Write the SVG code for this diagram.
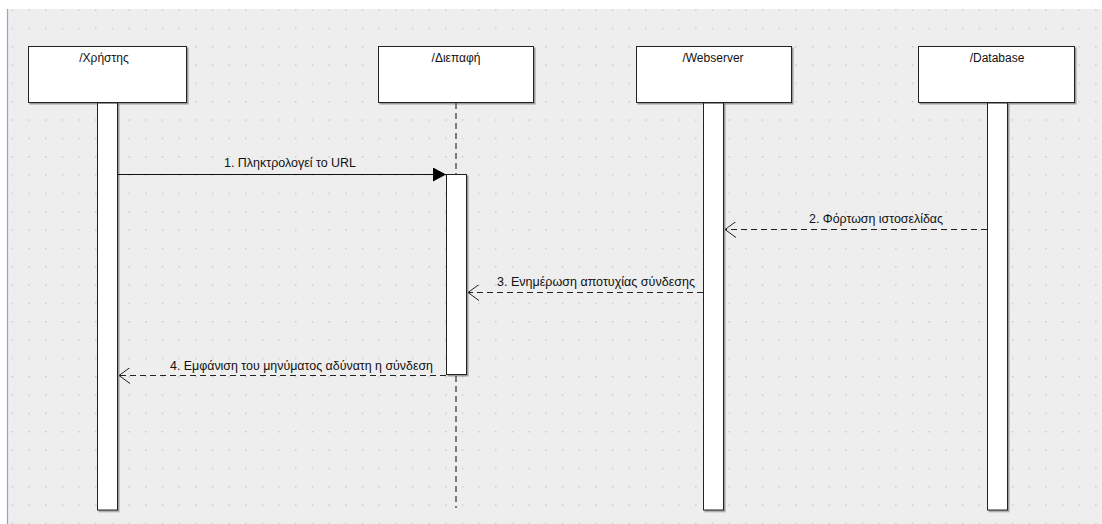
<svg xmlns="http://www.w3.org/2000/svg" width="1102" height="524" viewBox="0 0 1102 524">
<defs>
<pattern id="grid" x="11.7" y="9.4" width="16.67" height="18.33" patternUnits="userSpaceOnUse">
<rect x="0" y="0" width="1.4" height="1.4" fill="#c6c6c6"/>
</pattern>
<marker id="filled" markerWidth="14" markerHeight="14" refX="13" refY="7" orient="auto" markerUnits="userSpaceOnUse">
<path d="M0,0 L13,7 L0,14 Z" fill="#000"/>
</marker>
<marker id="open" markerWidth="14" markerHeight="16" refX="12" refY="8" orient="auto" markerUnits="userSpaceOnUse">
<path d="M1,0 L12,8 L1,16" fill="none" stroke="#222" stroke-width="1"/>
</marker>
<filter id="sh" x="-10%" y="-10%" width="130%" height="130%">
<feDropShadow dx="1.5" dy="1.5" stdDeviation="0.6" flood-color="#000" flood-opacity="0.35"/>
</filter>
</defs>
<style>
.box{fill:#fff;stroke:#222;stroke-width:1;filter:url(#sh)}
.bar{fill:#fff;stroke:#222;stroke-width:1;filter:url(#sh)}
.t{font-family:"Liberation Sans",Arial,sans-serif;font-size:12px;fill:#111}
.msg{stroke:#111;stroke-width:1;fill:none}
.ret{stroke:#222;stroke-width:1;fill:none;stroke-dasharray:6,4}
.life{stroke:#555;stroke-width:1.5;fill:none;stroke-dasharray:6,4}
</style>
<rect x="0" y="0" width="1102" height="524" fill="#fff"/>
<rect x="8" y="9" width="1094" height="515" fill="#eeeeee"/>
<rect x="8" y="9" width="1094" height="515" fill="url(#grid)"/>
<line x1="7.5" y1="9" x2="7.5" y2="524" stroke="#8ea6d6" stroke-width="1.2"/>

<g id="node-xristis">
<rect class="box" x="28.5" y="46.5" width="158" height="56"/>
<text class="t" x="104" y="62" text-anchor="middle">/Χρήστης</text>
<rect class="bar" x="97.5" y="103" width="20" height="407"/>
</g>

<g id="node-diepafi">
<rect class="box" x="378.5" y="46.5" width="155" height="56"/>
<text class="t" x="456" y="62" text-anchor="middle">/Διεπαφή</text>
<line class="life" x1="456" y1="103" x2="456" y2="174"/>
<line class="life" x1="456" y1="376" x2="456" y2="508"/>
<rect class="bar" x="446.5" y="174.5" width="20" height="200"/>
</g>

<g id="node-webserver">
<rect class="box" x="636.5" y="46.5" width="155" height="56"/>
<text class="t" x="713" y="62" text-anchor="middle">/Webserver</text>
<rect class="bar" x="703.5" y="103" width="20" height="407"/>
</g>

<g id="node-database">
<rect class="box" x="918.5" y="46.5" width="156" height="56"/>
<text class="t" x="997" y="62" text-anchor="middle">/Database</text>
<rect class="bar" x="987.5" y="103" width="20" height="407"/>
</g>

<g id="connectors">
<line class="msg" x1="117.5" y1="174.5" x2="446" y2="174.5" marker-end="url(#filled)"/>
<text class="t" x="224" y="167" textLength="132" lengthAdjust="spacingAndGlyphs">1. Πληκτρολογεί το URL</text>
<line class="ret" x1="987" y1="229.5" x2="725" y2="229.5" marker-end="url(#open)"/>
<text class="t" x="809" y="223" textLength="134" lengthAdjust="spacingAndGlyphs">2. Φόρτωση ιστοσελίδας</text>
<line class="ret" x1="703" y1="292.5" x2="468" y2="292.5" marker-end="url(#open)"/>
<text class="t" x="497" y="286" textLength="198" lengthAdjust="spacingAndGlyphs">3. Ενημέρωση αποτυχίας σύνδεσης</text>
<line class="ret" x1="446" y1="375.5" x2="119" y2="375.5" marker-end="url(#open)"/>
<text class="t" x="170" y="370" textLength="263" lengthAdjust="spacingAndGlyphs">4. Εμφάνιση του μηνύματος αδύνατη η σύνδεση</text>
</g>
</svg>
